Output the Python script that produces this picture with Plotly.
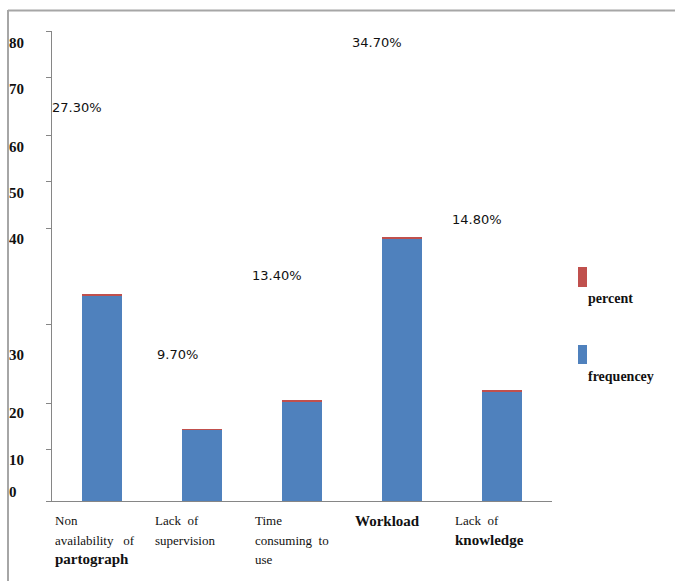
import plotly.graph_objects as go

# ---------------- data ----------------
categories = ["Non availability of partograph", "Lack of supervision",
              "Time consuming to use", "Workload", "Lack of knowledge"]
frequency = [35.0, 12.1, 16.9, 44.6, 18.7]
percent = [0.273, 0.097, 0.134, 0.347, 0.148]
percent_labels = ["27.30%", "9.70%", "13.40%", "34.70%", "14.80%"]
percent_label_y = [66.9, 24.9, 38.3, 78.1, 48.0]
category_lines = [
    ["Non", "availability\u00a0\u00a0\u00a0of", "*partograph"],
    ["Lack\u00a0\u00a0of", "supervision"],
    ["Time", "consuming\u00a0\u00a0to", "use"],
    ["*Workload"],
    ["Lack\u00a0\u00a0of", "*knowledge"],
]
y_tick_marks = [80, 72.17, 62.13, 54.30, 46.30, 29.96, 16.68, 8.85, 0]
y_label_pos = [78.08, 70.13, 60.31, 52.43, 44.60, 24.85, 14.98, 6.98, 1.53]
y_label_text = ["80", "70", "60", "50", "40", "30", "20", "10", "0"]

# ---------------- geometry helpers ----------------
W_FIG, H_FIG = 675, 581
ML, MR, MT, MB = 8, 123, 31, 80
PW = W_FIG - ML - MR
PH = H_FIG - MT - MB


def px_x(px):
    return (px - ML) / PW


def px_y(py):
    return (MT + PH - py) / PH


BLUE = "#4F81BD"
RED = "#C0504D"
AXIS = "#868686"
SERIF = "Liberation Serif"

fig = go.Figure()
fig.add_trace(go.Bar(x=categories, y=frequency, name="frequencey",
                     marker=dict(color=BLUE, line=dict(width=0)), width=0.4))
fig.add_trace(go.Bar(x=categories, y=percent, name="percent",
                     marker=dict(color=RED, line=dict(width=0)), width=0.4))
fig.add_trace(go.Scatter(x=categories, y=[None] * len(categories), yaxis="y2",
                         showlegend=False, hoverinfo="skip"))

annotations = []
for c, lab, yv in zip(categories, percent_labels, percent_label_y):
    annotations.append(dict(x=c, y=yv, xref="x", yref="y", text=lab,
                            showarrow=False, xshift=-25,
                            font=dict(family="DejaVu Sans", size=13, color="#111")))


def fmt_line(s):
    if s.startswith("*"):
        return ('<span style="font-family:%s;font-size:15px"><b>%s</b></span>'
                % (SERIF, s[1:]))
    return '<span style="font-family:%s;font-size:13px">%s</span>' % (SERIF, s)


for c, lines in zip(categories, category_lines):
    annotations.append(dict(x=c, y=px_y(511), xref="x", yref="paper",
                            text="<br>".join(fmt_line(s) for s in lines),
                            showarrow=False, xanchor="left", yanchor="top",
                            align="left", xshift=-49,
                            font=dict(family=SERIF, size=15, color="#111")))

# legend (custom, as in the reference)
legend_items = [("percent", RED, 267, 287, 298), ("frequencey", BLUE, 345, 364, 376)]
shapes = []
for name, col, y0, y1, ty in legend_items:
    shapes.append(dict(type="rect", xref="paper", yref="paper",
                       x0=px_x(578), x1=px_x(587), y0=px_y(y1), y1=px_y(y0),
                       fillcolor=col, line=dict(width=0)))
    annotations.append(dict(x=px_x(586), y=px_y(ty), xref="paper", yref="paper",
                            text="<b>" + name + "</b>", showarrow=False,
                            xanchor="left", yanchor="middle",
                            font=dict(family=SERIF, size=14, color="#111")))

# outer frame lines
shapes.append(dict(type="line", xref="paper", yref="paper",
                   x0=px_x(8), x1=px_x(676), y0=px_y(10.5), y1=px_y(10.5),
                   line=dict(color="#A6A6A6", width=2)))
shapes.append(dict(type="line", xref="paper", yref="paper",
                   x0=px_x(8), x1=px_x(8), y0=px_y(10), y1=px_y(582),
                   line=dict(color="#A6A6A6", width=2)))

fig.update_layout(
    width=W_FIG, height=H_FIG,
    margin=dict(l=ML, r=MR, t=MT, b=MB, pad=0),
    paper_bgcolor="white", plot_bgcolor="white",
    barmode="stack", showlegend=False,
    xaxis=dict(domain=[px_x(52), 1], range=[-0.5, 4.5], showticklabels=False,
               showline=True, linecolor=AXIS, linewidth=1, ticks="",
               showgrid=False, zeroline=False),
    yaxis=dict(range=[0, 80], showline=True, linecolor=AXIS, linewidth=1,
               ticks="outside", ticklen=5, tickcolor=AXIS, tickwidth=1,
               tickvals=y_tick_marks, showticklabels=False,
               showgrid=False, zeroline=False),
    yaxis2=dict(range=[0, 80], overlaying="y", anchor="free", position=0,
                side="right", showline=False, ticks="", showgrid=False,
                zeroline=False, tickvals=y_label_pos, ticktext=y_label_text,
                tickfont=dict(family=SERIF, size=15, color="#111", weight="bold"),
                ),
    annotations=annotations, shapes=shapes,
)

fig.write_html("out.html")
